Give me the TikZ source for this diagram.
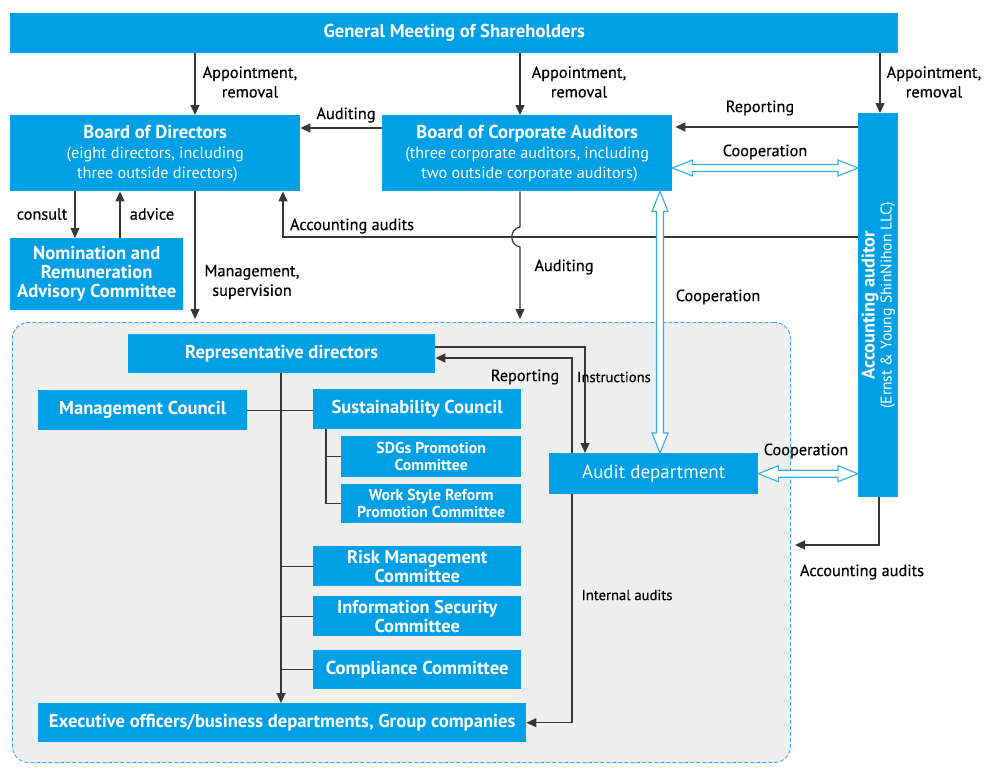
\documentclass[tikz,border=0pt]{standalone}
\usepackage{fontspec}
\setmainfont{PT Sans}
\newfontface\lblfont{PT Sans}[FakeBold=0.35]
\usetikzlibrary{arrows.meta,calc}
\definecolor{boxblue}{RGB}{0,160,230}
\definecolor{coopblue}{RGB}{55,172,235}
\definecolor{panelgray}{RGB}{239,239,239}
\definecolor{linegray}{RGB}{55,55,55}
\newcommand\cooparrow[2]{%
  \draw[coopline] (#1)
    -- ($(#1)!20pt!(#2)!8pt!90:(#2)$)
    -- ($(#1)!20pt!(#2)!3.5pt!90:(#2)$)
    -- ($(#2)!20pt!(#1)!3.5pt!-90:(#1)$)
    -- ($(#2)!20pt!(#1)!8pt!-90:(#1)$)
    -- (#2)
    -- ($(#2)!20pt!(#1)!8pt!90:(#1)$)
    -- ($(#2)!20pt!(#1)!3.5pt!90:(#1)$)
    -- ($(#1)!20pt!(#2)!3.5pt!-90:(#2)$)
    -- ($(#1)!20pt!(#2)!8pt!-90:(#2)$)
    -- cycle;}
\begin{document}
\begin{tikzpicture}[x=1pt,y=-1pt,
  bx/.style={fill=boxblue, text=white, inner sep=0pt, align=center, anchor=north west},
  ttl/.style={font=\fontsize{18.6}{19}\selectfont\bfseries},
  two/.style={font=\fontsize{18.4}{19}\selectfont\bfseries},
  sm/.style={font=\fontsize{15.8}{17}\selectfont\bfseries},
  lbl/.style={font=\fontsize{16.3}{19.5}\lblfont, text=black, align=center, inner sep=0pt},
  small/.style={font=\fontsize{14.6}{17}\lblfont, text=black, align=center, inner sep=0pt},
  ln/.style={draw=linegray, line width=1.2pt},
  arr/.style={ln, -{Triangle[length=10pt,width=9pt]}},
  coopline/.style={draw=coopblue, fill=white, line width=1.1pt, line join=miter},
  panelbox/.style={fill=panelgray, draw=coopblue, line width=0.9pt, dash pattern=on 4pt off 2pt, rounded corners=16pt, anchor=north west, inner sep=0pt}
]
\useasboundingbox (0,0) rectangle (1000,771);
\fill[white] (0,0) rectangle (1000,771);

% helper coordinates
\coordinate (cx75) at (75,0);
\coordinate (cx120) at (120,0);
\coordinate (cx195) at (195,0);
\coordinate (cx283) at (283,0);
\coordinate (cx281) at (281,0);
\coordinate (cx326) at (326,0);
\coordinate (cx520) at (520,0);
\coordinate (cx572) at (572,0);
\coordinate (cx585) at (585,0);
\coordinate (cx660) at (660,0);
\coordinate (cx880) at (880,0);
\coordinate (cx879) at (879,0);
\coordinate (cy127) at (0,127);
\coordinate (cy128) at (0,128);
\coordinate (cy168) at (0,168);
\coordinate (cy227) at (0,227);
\coordinate (cy237) at (0,237);
\coordinate (cy247) at (0,247);
\coordinate (cy347) at (0,347);
\coordinate (cy358) at (0,358);

% panel
\node[panelbox, minimum width=778pt, minimum height=440pt] (panel) at (12,322) {};

% boxes
\node[bx, minimum width=888pt, minimum height=40pt, ttl] (GM) at (10,13) {General Meeting of Shareholders};
\node[bx, minimum width=290pt, minimum height=76pt, font=\fontsize{16.2}{20}\selectfont] (BoD) at (10,115)
  {{\fontsize{18.6}{20}\selectfont\bfseries Board of Directors}\\
   (eight directors, including\\
   \hphantom{(}three outside directors)};
\node[bx, minimum width=290pt, minimum height=76pt, font=\fontsize{16.2}{20}\selectfont] (BCA) at (382,115)
  {{\fontsize{18.6}{20}\selectfont\bfseries Board of Corporate Auditors}\\
   (three corporate auditors, including\\
   \hphantom{(}two outside corporate auditors)};
\node[bx, minimum width=40pt, minimum height=384pt] (AA) at (858,113) {};
\node[text=white, rotate=90, align=center, inner sep=0pt, font=\fontsize{15.6}{17}\selectfont] (AAtext) at (AA.center)
  {{\fontsize{18.4}{17}\selectfont\bfseries Accounting auditor}\\
   (Ernst \& Young ShinNihon LLC)};
\node[bx, minimum width=173pt, minimum height=72pt, font=\fontsize{18.6}{19}\selectfont\bfseries] (NRAC) at (10,238)
  {Nomination and\\Remuneration\\Advisory Committee};
\node[bx, minimum width=307pt, minimum height=39pt, ttl] (RepDir) at (128,334) {Representative directors};
\node[bx, minimum width=209pt, minimum height=40pt, ttl] (MgmtC) at (38,390) {Management Council};
\node[bx, minimum width=208pt, minimum height=40pt, ttl] (SustC) at (313,389) {Sustainability Council};
\node[bx, minimum width=180pt, minimum height=41pt, sm] (SDGs) at (341,436) {SDGs Promotion\\Committee};
\node[bx, minimum width=180pt, minimum height=39pt, sm] (WSR) at (341,484) {Work Style Reform\\Promotion Committee};
\node[bx, minimum width=208pt, minimum height=40pt, two] (Risk) at (313,546) {Risk Management\\Committee};
\node[bx, minimum width=208pt, minimum height=40pt, two] (InfoSec) at (313,596) {Information Security\\Committee};
\node[bx, minimum width=208pt, minimum height=39pt, ttl] (Compl) at (313,650) {Compliance Committee};
\node[bx, minimum width=488pt, minimum height=39pt, ttl] (Exec) at (38,703) {Executive officers/business departments, Group companies};
\node[bx, minimum width=209pt, minimum height=41pt, font=\fontsize{19}{21}\selectfont] (Audit) at (549,453) {Audit department};

% connectors from the general meeting
\draw[arr] (GM.south -| cx195) -- (BoD.north -| cx195);
\draw[arr] (GM.south -| cx520) -- (BCA.north -| cx520);
\draw[arr] (GM.south -| cx880) -- (AA.north -| cx880);
\node[lbl] (lAp1) at (250,82) {Appointment,\\removal};
\node[lbl] (lAp2) at (579,82) {Appointment,\\removal};
\node[lbl] (lAp3) at (934,82) {Appointment,\\removal};

% auditing / reporting / cooperation
\draw[arr] (BCA.west |- cy128) -- (BoD.east |- cy128);
\node[lbl] (lAud1) at (346,115) {Auditing};
\draw[arr, shorten >=3pt] (AA.west |- cy127) -- (BCA.east |- cy127);
\node[lbl] (lRep1) at (760,108) {Reporting};
\coordinate (k1a) at (BCA.east |- cy168);
\coordinate (k1b) at (AA.west |- cy168);
\cooparrow{k1a}{k1b}
\node[lbl] (lCoop1) at (765,152) {Cooperation};

% accounting audits (upper)
\draw[arr] (AA.west |- cy237) -| (BoD.south -| cx283);
\node[lbl] (lAcc1) at (352,226) {Accounting audits};

% board of corporate auditors down with jump
\draw[arr, shorten >=3pt] (BCA.south -| cx520) -- (cx520 |- cy227)
  .. controls +(-11,2) and +(-11,-2) .. (cx520 |- cy247) -- (panel.north -| cx520);
\node[lbl] (lAud2) at (564,267) {Auditing};

% cooperation BCA - audit department
\coordinate (k2a) at (BCA.south -| cx660);
\coordinate (k2b) at (Audit.north -| cx660);
\cooparrow{k2a}{k2b}
\node[lbl] (lCoop2) at (718,297) {Cooperation};

% board of directors down
\draw[arr, shorten >=3pt] (BoD.south -| cx195) -- (panel.north -| cx195);
\node[lbl] (lMan) at (252,282) {Management,\\supervision};
\draw[arr] (BoD.south -| cx75) -- (NRAC.north -| cx75);
\node[lbl] (lCons) at (42,214) {consult};
\draw[arr] (NRAC.north -| cx120) -- (BoD.south -| cx120);
\node[lbl] (lAdv) at (152,214) {advice};

% inside panel
\draw[arr] (RepDir.south -| cx281) -- (Exec.north -| cx281);
\draw[ln] (MgmtC.east) -- (SustC.west |- MgmtC.east);
\draw[ln] (cx281 |- Risk.west) -- (Risk.west);
\draw[ln] (cx281 |- InfoSec.west) -- (InfoSec.west);
\draw[ln] (cx281 |- Compl.west) -- (Compl.west);
\draw[ln] (SustC.south -| cx326) |- (SDGs.west);
\draw[ln] (cx326 |- SDGs.west) |- (WSR.west);

\draw[arr] (RepDir.east |- cy347) -| (Audit.north -| cx585);
\node[small] (lInst) at (614,377) {Instructions};
\draw[arr] (Audit.north -| cx572) |- (RepDir.east |- cy358);
\node[lbl] (lRep2) at (525,377) {Reporting};
\draw[arr] (Audit.south -| cx572) |- (Exec.east);
\node[small] (lInt) at (627,595) {Internal audits};

\coordinate (k3a) at (Audit.east);
\coordinate (k3b) at (AA.west |- Audit.east);
\cooparrow{k3a}{k3b}
\node[lbl] (lCoop3) at (806,451) {Cooperation};

% accounting audits (lower)
\coordinate (accEnd) at (795,545);
\draw[arr] (AA.south -| cx879) |- (accEnd);
\node[lbl] (lAcc2) at (862,572) {Accounting audits};
\end{tikzpicture}
\end{document}
